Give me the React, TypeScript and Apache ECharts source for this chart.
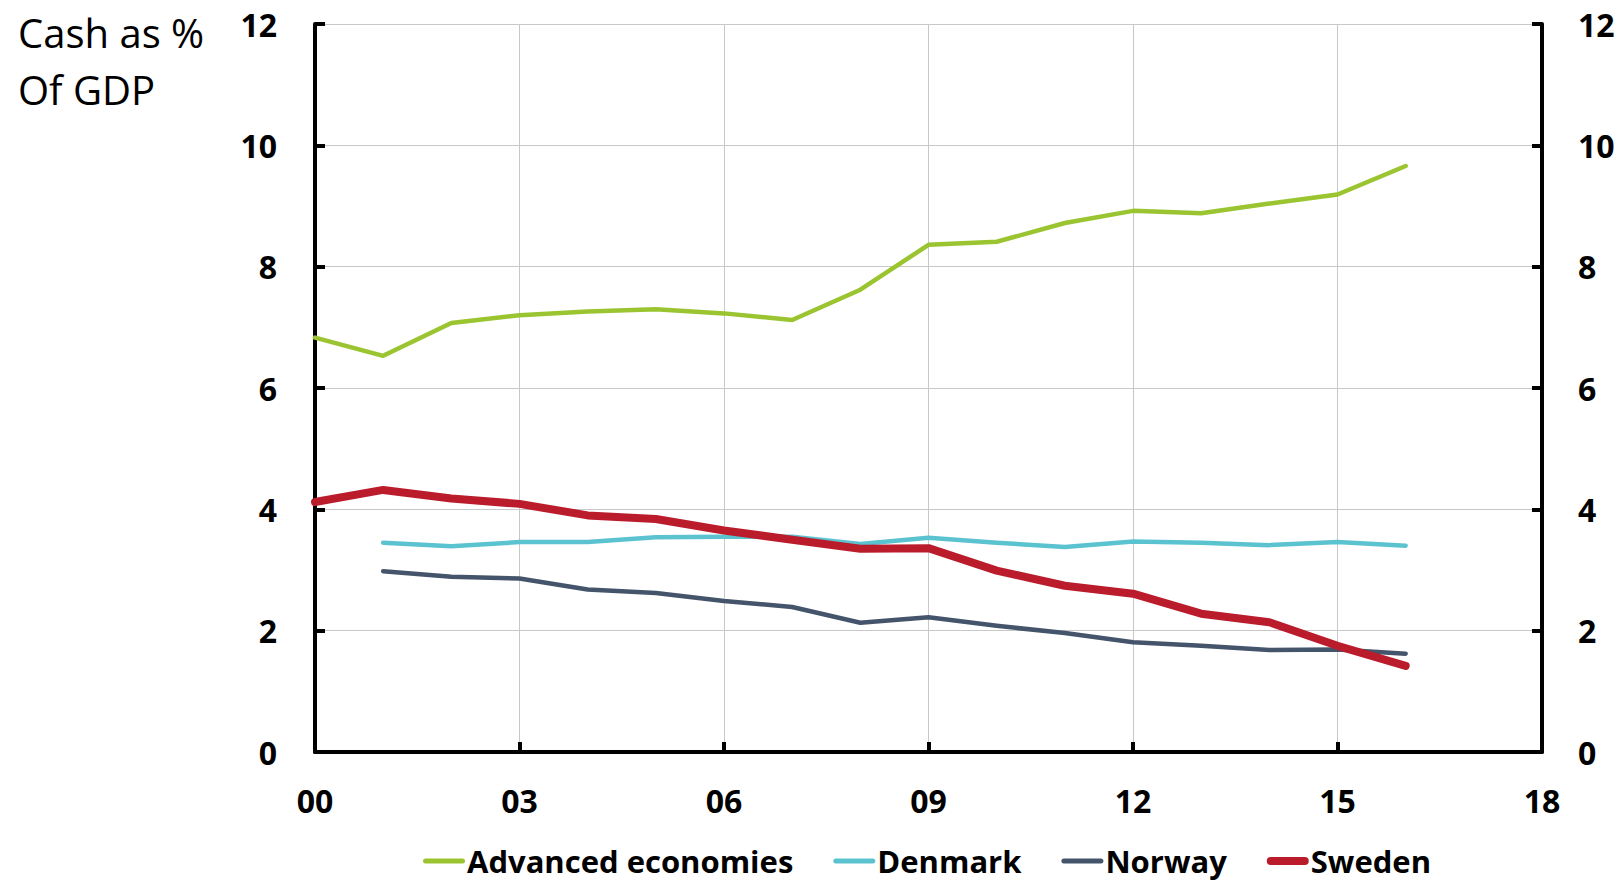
import React, { useEffect, useRef } from "react";
import * as echarts from "echarts";

const years = [0, 1, 2, 3, 4, 5, 6, 7, 8, 9, 10, 11, 12, 13, 14, 15, 16];
const advanced = [6.83, 6.53, 7.07, 7.2, 7.26, 7.3, 7.23, 7.12, 7.62, 8.36, 8.41, 8.72, 8.92, 8.88, 9.04, 9.19, 9.66];
const denmark = [null, 3.45, 3.39, 3.46, 3.46, 3.54, 3.55, 3.55, 3.43, 3.53, 3.45, 3.38, 3.47, 3.45, 3.41, 3.46, 3.4];
const norway = [null, 2.98, 2.89, 2.86, 2.68, 2.62, 2.49, 2.39, 2.13, 2.22, 2.08, 1.96, 1.81, 1.75, 1.68, 1.69, 1.62];
const sweden = [4.12, 4.32, 4.18, 4.09, 3.9, 3.84, 3.65, 3.5, 3.35, 3.36, 2.99, 2.74, 2.61, 2.28, 2.14, 1.75, 1.42];
const seriesNames = ["Advanced economies", "Denmark", "Norway", "Sweden"];
const titleText = "Cash as %\nOf GDP";

const FONT = "'Open Sans', Lato, sans-serif";
const THIN_ICON = "path://M2.5,0h37a2.5,2.5 0 0 1 0,5h-37a2.5,2.5 0 0 1 0,-5z";
const THICK_ICON = "path://M4,0h34a4,4 0 0 1 0,8h-34a4,4 0 0 1 0,-8z";

function pairs(vals: (number | null)[]) {
  return years.map((y, i) => [y, vals[i]]);
}

export default function App() {
  const ref = useRef<HTMLDivElement>(null);
  useEffect(() => {
    if (!ref.current) return;
    const chart = echarts.init(ref.current, undefined, { renderer: "svg" });
    const axisLine = { show: true, lineStyle: { color: "#000", width: 4 } };
    const axisTick = { show: true, inside: true, length: 10, lineStyle: { color: "#000", width: 4 } };
    const labelStyle = { color: "#000", fontFamily: FONT, fontWeight: "bold" as const, fontSize: 32 };
    const yBase = {
      type: "value" as const,
      min: 0,
      max: 12,
      interval: 2,
      axisLine,
      axisTick,
    };
    const lineSeries = (name: string, data: (number | null)[], color: string, width: number) => ({
      name,
      type: "line" as const,
      data: pairs(data),
      showSymbol: false,
      symbol: "none",
      connectNulls: false,
      lineStyle: { color, width, cap: "round" as const, join: "round" as const },
      itemStyle: { color },
    });
    chart.setOption({
      animation: false,
      backgroundColor: "#fff",
      title: {
        text: titleText,
        left: 13,
        top: -1,
        textStyle: { fontFamily: FONT, fontWeight: "normal", fontSize: 40, lineHeight: 57, color: "#000" },
      },
      grid: { left: 315, right: 79, top: 24, bottom: 132 },
      legend: {
        left: 418,
        top: 839,
        itemWidth: 42,
        itemHeight: 10,
        itemGap: 40,
        symbolKeepAspect: true,
        textStyle: {
          color: "#000",
          fontFamily: FONT,
          fontWeight: "bold",
          fontSize: 31,
          lineHeight: 34,
          padding: [0, 0, 0, -3],
        },
        data: [
          { name: seriesNames[0], icon: THIN_ICON },
          { name: seriesNames[1], icon: THIN_ICON },
          { name: seriesNames[2], icon: THIN_ICON },
          { name: seriesNames[3], icon: THICK_ICON },
        ],
      },
      xAxis: {
        type: "value",
        min: 0,
        max: 18,
        interval: 3,
        axisLine,
        axisTick,
        axisLabel: {
          ...labelStyle,
          margin: 32,
          formatter: (v: number) => String(v).padStart(2, "0"),
        },
        splitLine: { show: true, lineStyle: { color: "#c8c8c8", width: 1 } },
      },
      yAxis: [
        {
          ...yBase,
          position: "left",
          axisLabel: { ...labelStyle, margin: 38 },
          splitLine: { show: true, lineStyle: { color: "#c8c8c8", width: 1 } },
        },
        {
          ...yBase,
          position: "right",
          axisLabel: { ...labelStyle, margin: 36 },
          splitLine: { show: false },
        },
      ],
      series: [
        lineSeries(seriesNames[0], advanced, "#9BC431", 4.5),
        lineSeries(seriesNames[1], denmark, "#5BC3D0", 4.5),
        lineSeries(seriesNames[2], norway, "#44546A", 4.5),
        lineSeries(seriesNames[3], sweden, "#BA1C2C", 8),
      ],
    });
    return () => chart.dispose();
  }, []);
  return (
    <div
      ref={ref}
      style={{ position: "absolute", left: 0, top: 0, width: 1621, height: 884, background: "#fff" }}
    />
  );
}
